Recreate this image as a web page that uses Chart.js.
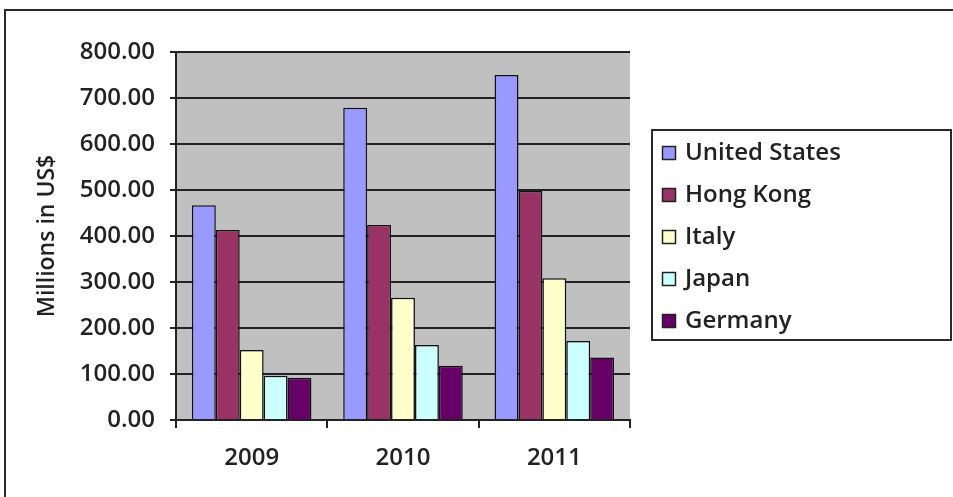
<!DOCTYPE html>
<html>
<head>
<meta charset="utf-8">
<title>Millions in US$</title>
<script src="https://cdn.jsdelivr.net/npm/chart.js@4/dist/chart.umd.min.js"></script>
<style>
  html, body { margin: 0; padding: 0; background: #fff; }
  #chart { display: block; }
</style>
</head>
<body>
<canvas id="chart" width="953" height="497"></canvas>
<script>
// categories and series
const years = ["2009", "2010", "2011"];
const unitedStates = [467, 679, 750];
const hongKong = [413, 424, 498];
const italy = [152, 266, 308];
const japan = [96, 163, 172];
const germany = [92, 118, 136];

const seriesNames = ["United States", "Hong Kong", "Italy", "Japan", "Germany"];
const seriesColors = ["#9999FF", "#993366", "#FFFFCC", "#CCFFFF", "#660066"];
const seriesValues = [unitedStates, hongKong, italy, japan, germany];

const FONT = "'Open Sans', 'Noto Sans', sans-serif";
const WEIGHT = "600";
const INK = "#222";

// white frame, grey plot area and the boxed legend on the right
const framePlugin = {
  id: "frame",
  beforeDraw(chart) {
    const ctx = chart.ctx;
    const a = chart.chartArea;
    ctx.save();
    ctx.fillStyle = "#fff";
    ctx.fillRect(0, 0, chart.width, chart.height);
    ctx.strokeStyle = "#2a2a2a";
    ctx.lineWidth = 2;
    ctx.strokeRect(5, 10, chart.width + 20, chart.height + 20);
    ctx.fillStyle = "#C0C0C0";
    ctx.fillRect(a.left, a.top, a.right - a.left, a.bottom - a.top);
    ctx.restore();
  },
  afterDraw(chart) {
    const ctx = chart.ctx;
    ctx.save();
    ctx.fillStyle = "#fff";
    ctx.fillRect(652, 130, 299, 210);
    ctx.strokeStyle = "#2a2a2a";
    ctx.lineWidth = 2;
    ctx.strokeRect(652, 130, 299, 210);
    ctx.font = WEIGHT + " 24px " + FONT;
    ctx.textBaseline = "middle";
    chart.data.datasets.forEach((ds, i) => {
      const cy = 153 + i * 42;
      ctx.fillStyle = ds.backgroundColor;
      ctx.fillRect(662, cy - 7, 14, 14);
      ctx.lineWidth = 1.5;
      ctx.strokeStyle = "#222";
      ctx.strokeRect(662.5, cy - 6.5, 13, 13);
      ctx.fillStyle = INK;
      ctx.fillText(ds.label, 685, cy);
    });
    ctx.restore();
  }
};

const datasets = seriesNames.map((name, i) => ({
  label: name,
  data: seriesValues[i],
  backgroundColor: seriesColors[i],
  borderColor: "#111",
  borderWidth: 1.5,
  categoryPercentage: 0.79,
  barPercentage: 1.0
}));

new Chart(document.getElementById("chart").getContext("2d"), {
  type: "bar",
  data: { labels: years, datasets: datasets },
  plugins: [framePlugin],
  options: {
    responsive: false,
    animation: false,
    layout: { padding: { top: 52, right: 323, left: 0, bottom: 0 } },
    plugins: {
      legend: { display: false },
      tooltip: { enabled: false }
    },
    scales: {
      x: {
        afterFit: (scale) => { scale.height = 77; },
        grid: {
          drawOnChartArea: false,
          drawTicks: true,
          tickLength: 8,
          color: INK,
          lineWidth: 2
        },
        border: { display: true, color: INK, width: 2 },
        ticks: { color: INK, font: { family: FONT, size: 24, weight: WEIGHT }, padding: 16 }
      },
      y: {
        min: 0,
        max: 800,
        afterFit: (scale) => { scale.width = 176; },
        grid: { color: INK, lineWidth: 2, tickLength: 6 },
        border: { display: true, color: INK, width: 2 },
        ticks: {
          stepSize: 100,
          color: INK,
          padding: 15,
          font: { family: FONT, size: 24, weight: WEIGHT },
          callback: (v) => v.toFixed(2)
        },
        title: {
          display: true,
          text: "Millions in US$",
          color: INK,
          font: { family: FONT, size: 23, weight: WEIGHT },
          padding: { top: 34, bottom: 0 }
        }
      }
    }
  }
});
</script>
</body>
</html>
